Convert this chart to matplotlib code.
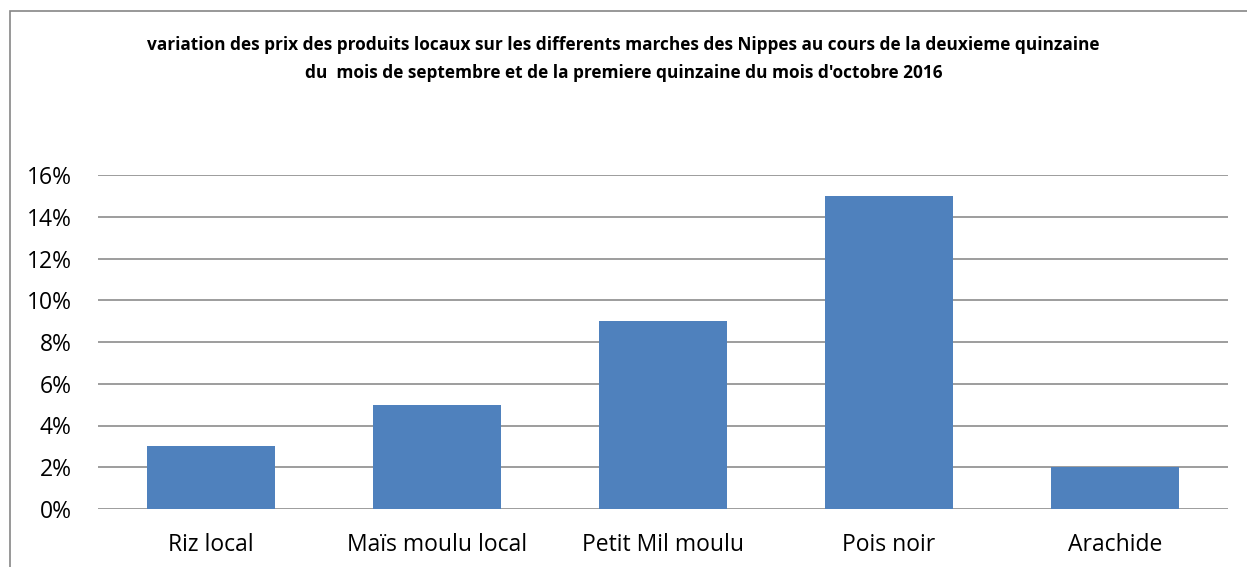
import matplotlib
matplotlib.use("Agg")
import matplotlib.pyplot as plt
from matplotlib.patches import Rectangle
from matplotlib.ticker import FuncFormatter

categories = ["Riz local", "Maïs moulu local", "Petit Mil moulu", "Pois noir", "Arachide"]
values = [0.03, 0.05, 0.09, 0.15, 0.02]
yticks = [0, 0.02, 0.04, 0.06, 0.08, 0.10, 0.12, 0.14, 0.16]
title_lines = [
    "variation des prix des produits locaux sur les differents marches des Nippes au cours de la deuxieme quinzaine",
    "du  mois de septembre et de la premiere quinzaine du mois d'octobre 2016",
]

plt.rcParams['font.family'] = ['Open Sans', 'DejaVu Sans']

W, H = 1247, 567
fig = plt.figure(figsize=(W / 100, H / 100), dpi=100)
fig.patch.set_facecolor("white")

# outer chart border (extends beyond right/bottom edges)
fig.patches.append(Rectangle((10 / W, -0.05), 1.05, 1 - 11 / H + 0.05,
                             transform=fig.transFigure, fill=False,
                             edgecolor="#868686", linewidth=1.2))

ax = fig.add_axes([98 / W, 1 - 509 / H, (1228 - 98) / W, (509 - 175) / H])
x = range(len(categories))
ax.bar(x, values, width=0.57, color="#4F81BD", zorder=3)
ax.set_xlim(-0.5, len(categories) - 0.5)
ax.set_ylim(0, 0.16)
ax.set_yticks(yticks)
ax.yaxis.set_major_formatter(FuncFormatter(lambda v, p: f"{v*100:.0f}%"))
ax.set_xticks(list(x))
ax.set_xticklabels(categories)
ax.grid(axis="y", color="#8C8C8C", linewidth=1.2, zorder=0)
for s in ax.spines.values():
    s.set_visible(False)
ax.tick_params(axis="both", length=0, labelsize=16.5, colors="black")
ax.tick_params(axis="y", pad=19)
ax.tick_params(axis="x", pad=17)

fig.text(0.5, 1 - 45 / H, title_lines[0], ha="center", va="center",
         fontsize=12.4, fontweight="bold")
fig.text(0.5, 1 - 73 / H, title_lines[1], ha="center", va="center",
         fontsize=12.4, fontweight="bold")

fig.savefig("out.png", dpi=100)
